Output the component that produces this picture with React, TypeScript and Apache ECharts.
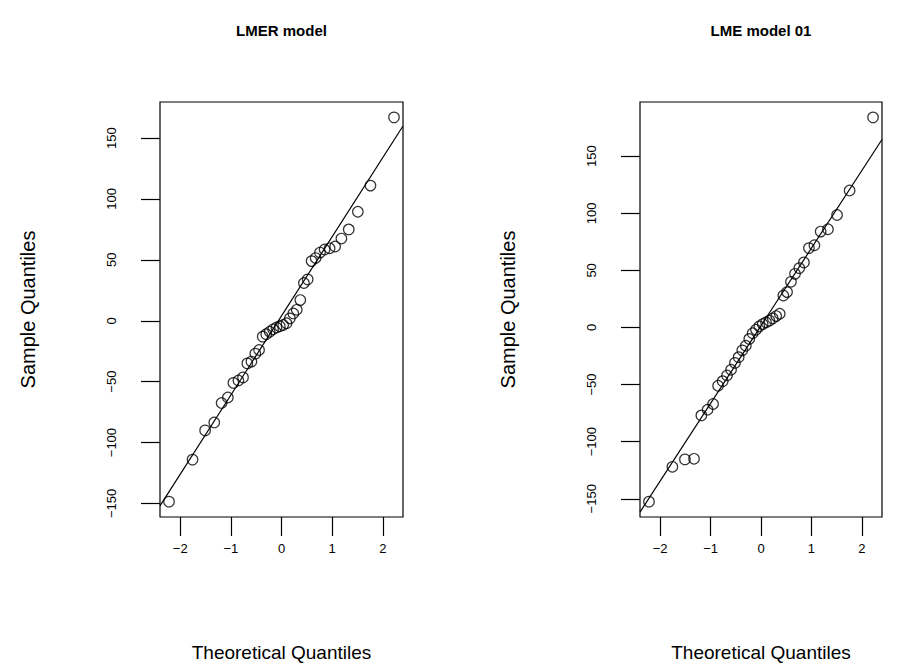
import React, { useEffect, useRef } from "react";
import * as echarts from "echarts";

// Theoretical normal quantiles of the 38 plotted points (x positions)
const theoreticalQ = [
  -2.2216, -1.757, -1.508, -1.3278, -1.1829, -1.0593, -0.95, -0.851, -0.7598, -0.6745,
  -0.5938, -0.5168, -0.4429, -0.3712, -0.3013, -0.233, -0.1657, -0.0991, -0.033,
  0.033, 0.0991, 0.1657, 0.233, 0.3013, 0.3712, 0.4429, 0.5168, 0.5938, 0.6745,
  0.7598, 0.851, 0.95, 1.0593, 1.1829, 1.3278, 1.508, 1.757, 2.2216,
];

// Sorted sample quantiles (residuals)
const lmerSample = [
  -148.5, -114, -90, -83.5, -67.5, -63, -51, -49, -46.5, -35,
  -33.5, -27, -24, -13, -11, -9, -7, -5.5, -4.5,
  -3.5, -2, 2, 6, 9, 17, 31, 34, 49, 51.5,
  56, 58.5, 59.5, 61, 67.5, 75, 89.5, 111, 167,
];
const lmeSample = [
  -152.5, -122, -115.5, -115, -77, -72, -67, -51, -47, -42,
  -37, -31, -26, -20, -16, -10, -5, -2, 1,
  3, 4.5, 6, 8, 10, 12, 28, 31, 40, 47,
  52, 57, 69.5, 72, 84, 86, 98.5, 120, 184,
];

// Reference lines (intercept, slope)
const lmerLine = [4, 65];
const lmeLine = [1.5, 68];

const xTicks = [-2, -1, 0, 1, 2];
const yTicks = [-150, -100, -50, 0, 50, 100, 150];
const panelTitles = ["LMER model", "LME model 01"];
const xName = "Theoretical Quantiles";
const yName = "Sample Quantiles";

const FONT = "Liberation Sans, Arial, Helvetica, sans-serif";

function rRange(vals: number[]): [number, number] {
  const lo = Math.min(...vals);
  const hi = Math.max(...vals);
  const d = (hi - lo) * 0.04;
  return [lo - d, hi + d];
}

const fmt = (v: number) => (v < 0 ? "\u2212" + Math.abs(v) : String(v));

export default function App() {
  const ref = useRef<HTMLDivElement>(null);
  useEffect(() => {
    if (!ref.current) return;
    const chart = echarts.init(ref.current, null, { renderer: "svg" });
    const panels = [
      { sample: lmerSample, line: lmerLine, grid: { left: 160, top: 102, width: 243, height: 415 }, cx: 281.5 },
      { sample: lmeSample, line: lmeLine, grid: { left: 640, top: 102, width: 242, height: 415 }, cx: 761 },
    ];
    const grids: any[] = [];
    const xAxes: any[] = [];
    const yAxes: any[] = [];
    const series: any[] = [];
    const graphics: any[] = [];
    panels.forEach((p, i) => {
      const xr = rRange(theoreticalQ);
      const yr = rRange(p.sample);
      grids.push({ ...p.grid, show: true, borderColor: "#000", borderWidth: 1.2, backgroundColor: "transparent" });
      xAxes.push({
        type: "value",
        gridIndex: i,
        position: "bottom",
        min: xr[0],
        max: xr[1],
        axisLine: { show: false, onZero: false },
        splitLine: { show: false },
        axisTick: { show: true, length: 19, inside: false, customValues: xTicks, lineStyle: { color: "#000", width: 1.2 } },
        axisLabel: { customValues: xTicks, formatter: fmt, color: "#000", fontSize: 13, fontFamily: FONT, margin: 25 },
      });
      yAxes.push({
        type: "value",
        gridIndex: i,
        position: "left",
        min: yr[0],
        max: yr[1],
        axisLine: { show: false, onZero: false },
        splitLine: { show: false },
        axisTick: { show: true, length: 19, inside: false, customValues: yTicks, lineStyle: { color: "#000", width: 1.2 } },
        axisLabel: { customValues: yTicks, formatter: fmt, rotate: 90, color: "#000", fontSize: 13, fontFamily: FONT, margin: 42 },
      });
      series.push({
        type: "scatter",
        xAxisIndex: i,
        yAxisIndex: i,
        symbol: "circle",
        symbolSize: 10.5,
        itemStyle: { color: "transparent", borderColor: "#000", borderWidth: 1.2 },
        data: theoreticalQ.map((q, k) => [q, p.sample[k]]),
        silent: true,
      });
      series.push({
        type: "line",
        xAxisIndex: i,
        yAxisIndex: i,
        symbol: "none",
        clip: true,
        lineStyle: { color: "#000", width: 1.2 },
        data: [xr[0], xr[1]].map((x) => [x, p.line[0] + p.line[1] * x]),
        silent: true,
      });
      graphics.push({
        type: "text",
        x: p.cx,
        y: 30,
        style: { text: panelTitles[i], font: `bold 15px ${FONT}`, fill: "#000", textAlign: "center", textVerticalAlign: "middle" },
      });
      graphics.push({
        type: "text",
        x: p.cx,
        y: 652,
        style: { text: xName, font: `19px ${FONT}`, fill: "#000", textAlign: "center", textVerticalAlign: "middle" },
      });
      graphics.push({
        type: "text",
        x: p.grid.left - 132,
        y: p.grid.top + p.grid.height / 2,
        rotation: Math.PI / 2,
        style: { text: yName, font: `20px ${FONT}`, fill: "#000", textAlign: "center", textVerticalAlign: "middle" },
      });
    });
    chart.setOption({
      animation: false,
      backgroundColor: "#fff",
      grid: grids,
      xAxis: xAxes,
      yAxis: yAxes,
      series,
      graphic: graphics,
    });
    return () => chart.dispose();
  }, []);
  return <div ref={ref} style={{ position: "fixed", left: 0, top: 0, width: 919, height: 670 }} />;
}
